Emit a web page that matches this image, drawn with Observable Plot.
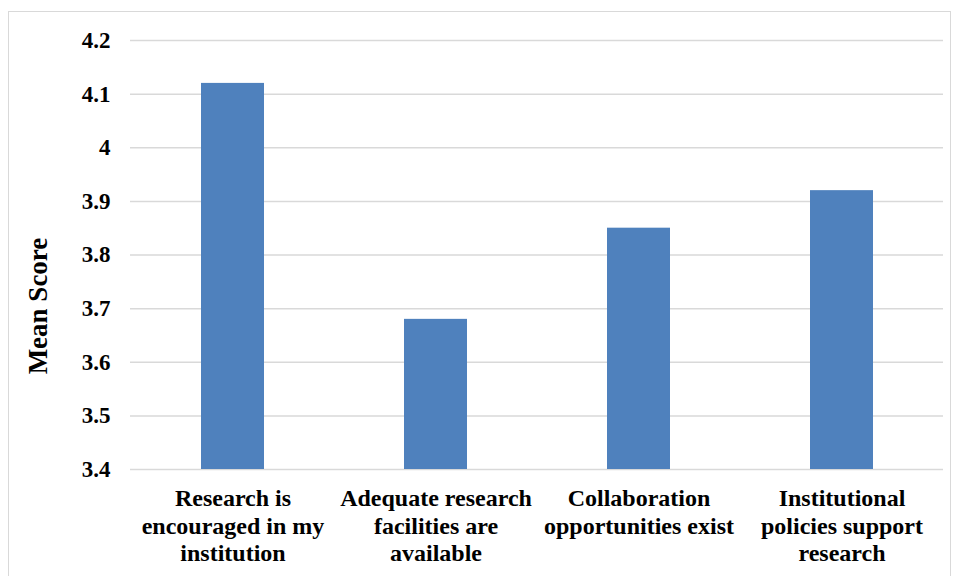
<!DOCTYPE html>
<html>
<head>
<meta charset="utf-8">
<script src="https://cdn.jsdelivr.net/npm/d3@7"></script>
<script src="https://cdn.jsdelivr.net/npm/@observablehq/plot@0.6"></script>
<style>
  html, body { margin: 0; padding: 0; background: #fff; }
  #wrap { position: relative; width: 958px; height: 576px; overflow: hidden; }
  #frame { position: absolute; left: 8px; top: 11px; width: 943px; height: 600px; border: 1.5px solid #d9d9d9; box-sizing: border-box; }
  #ylabel { position: absolute; left: 38px; top: 306px; transform: translate(-50%, -50%) rotate(-90deg);
    font: bold 27px "Liberation Serif", "Times New Roman", serif; color: #000; white-space: nowrap; }
  #chart { position: absolute; left: 0; top: 0; }
</style>
</head>
<body>
<div id="wrap">
  <div id="frame"></div>
  <div id="chart"></div>
  <div id="ylabel">Mean Score</div>
</div>
<script>
const categories = [
  "Research is\nencouraged in my\ninstitution",
  "Adequate research\nfacilities are\navailable",
  "Collaboration\nopportunities exist",
  "Institutional\npolicies support\nresearch"
];
const meanScores = [4.12, 3.68, 3.85, 3.92];
const yTicks = [3.4, 3.5, 3.6, 3.7, 3.8, 3.9, 4.0, 4.1, 4.2];
const yTickLabels = ["3.4", "3.5", "3.6", "3.7", "3.8", "3.9", "4", "4.1", "4.2"];

const data = categories.map((c, i) => ({category: c, value: meanScores[i]}));
const font = '"Liberation Serif", "Times New Roman", serif';

const chart = Plot.plot({
  width: 958,
  height: 576,
  marginLeft: 130,
  marginRight: 15,
  marginTop: 40,
  marginBottom: 107,
  style: {fontFamily: font, fontSize: "23px", fontWeight: "bold", color: "#000", background: "transparent"},
  x: {domain: categories, paddingInner: 0.69, paddingOuter: 0.345, label: null},
  y: {domain: [3.4, 4.2], label: null},
  marks: [
    Plot.gridY(yTicks, {stroke: "#d9d9d9", strokeOpacity: 1, strokeWidth: 1.5}),
    Plot.barY(data, {x: "category", y1: 3.4, y2: "value", fill: "#4f81bd"}),
    Plot.axisY({ticks: yTicks, tickSize: 0, tickPadding: 20, label: null,
      tickFormat: (d) => yTickLabels[yTicks.findIndex(t => Math.abs(t - d) < 1e-9)],
      fontSize: 23, fontWeight: "bold"}),
    Plot.axisX({tickSize: 0, tickPadding: 17, label: null, lineHeight: 1.15,
      fontSize: 24, fontWeight: "bold"})
  ]
});
document.getElementById("chart").appendChild(chart);
</script>
</body>
</html>
